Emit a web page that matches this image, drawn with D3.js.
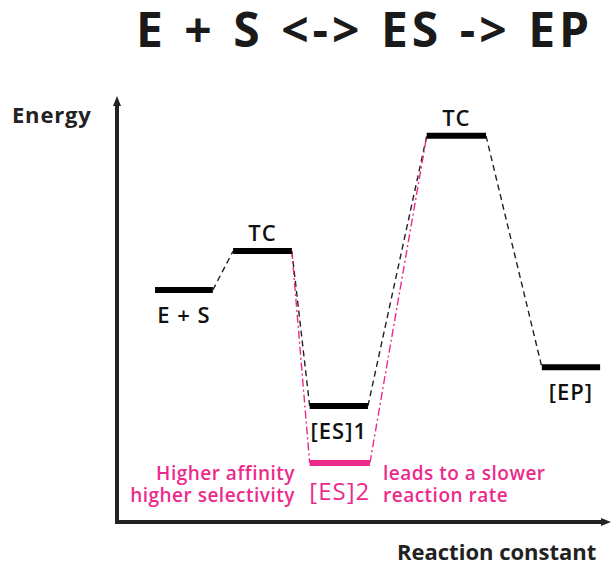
<!DOCTYPE html>
<html>
<head>
<meta charset="utf-8">
<script src="https://cdn.jsdelivr.net/npm/d3@7"></script>
<style>
  html, body { margin: 0; padding: 0; background: #fff; }
  svg { display: block; font-family: "Open Sans", "Noto Sans", sans-serif; }
</style>
</head>
<body>
<div id="chart"></div>
<script>
'use strict';

// energy levels: reaction coordinate start/end, energy (arbitrary units)
const levelNames   = ['E + S', 'TC', '[ES]1', '[ES]2', 'TC', '[EP]'];
const levelStart   = [7.7, 23.5, 39.0, 39.0, 62.7, 86.0];
const levelEnd     = [19.4, 35.4, 50.8, 51.2, 74.7, 97.8];
const levelEnergy  = [55.0, 64.2, 27.5, 14.0, 91.5, 36.7];
const levelPink    = [false, false, false, true, false, false];

// transitions between levels (indices)
const blackPath = [0, 1, 2, 4, 5];
const pinkPath  = [1, 3, 4];

const titleText = 'E + S <-> ES -> EP';
const yLabel = 'Energy';
const xLabel = 'Reaction constant';
const leftNote  = ['Higher affinity', 'higher selectivity'];
const rightNote = ['leads to a slower', 'reaction rate'];

const W = 611, H = 564;
const pink = '#ec2a8c';

const x = d3.scaleLinear().domain([0, 100]).range([117, 611]);
const y = d3.scaleLinear().domain([0, 100]).range([522, 100]);

const svg = d3.select('#chart').append('svg')
  .attr('width', W).attr('height', H);

// title
svg.append('text')
  .attr('x', 136).attr('y', 47)
  .attr('font-size', 48).attr('font-weight', 700)
  .attr('letter-spacing', 4).attr('word-spacing', 1)
  .attr('fill', '#1a1a1a')
  .text(titleText);

// axes
const axisG = svg.append('g');
axisG.append('path')
  .attr('d', `M${x(0)},${y(0)} V${y(100) + 4} M${x(0) - 2},${y(0)} H${x(100) - 6}`)
  .attr('stroke', '#222').attr('stroke-width', 4).attr('fill', 'none');
axisG.append('path')
  .attr('d', `M${x(0)},${y(100) - 4} l-4,10 h8 z`)
  .attr('fill', '#222');
axisG.append('path')
  .attr('d', `M${x(100)},${y(0)} l-10,-4 v8 z`)
  .attr('fill', '#222');

svg.append('text')
  .attr('x', 12).attr('y', 123)
  .attr('font-size', 22).attr('font-weight', 700).attr('fill', '#222')
  .attr('letter-spacing', 0.8)
  .text(yLabel);
svg.append('text')
  .attr('x', 397).attr('y', 560)
  .attr('font-size', 22).attr('font-weight', 700).attr('fill', '#222')
  .text(xLabel);

// connectors
function connectors(path){
  const segs = [];
  for(let i = 0; i < path.length - 1; i++){
    const a = path[i], b = path[i + 1];
    segs.push([[levelEnd[a], levelEnergy[a]], [levelStart[b], levelEnergy[b]]]);
  }
  return segs;
}
const line = d3.line().x(d => x(d[0])).y(d => y(d[1]));

svg.append('g').selectAll('path')
  .data(connectors(blackPath)).join('path')
  .attr('d', line)
  .attr('stroke', '#222').attr('stroke-width', 1.4)
  .attr('stroke-dasharray', '6,4').attr('fill', 'none');

svg.append('g').selectAll('path')
  .data(connectors(pinkPath)).join('path')
  .attr('d', line)
  .attr('stroke', pink).attr('stroke-width', 1.4)
  .attr('stroke-dasharray', '8,3,2,3').attr('fill', 'none');

// levels
svg.append('g').selectAll('line')
  .data(levelNames.map((n, i) => i)).join('line')
  .attr('x1', i => x(levelStart[i])).attr('x2', i => x(levelEnd[i]))
  .attr('y1', i => y(levelEnergy[i])).attr('y2', i => y(levelEnergy[i]))
  .attr('stroke', i => levelPink[i] ? pink : '#000')
  .attr('stroke-width', 6);

// level labels: TC above, others below
svg.append('g').selectAll('text')
  .data(levelNames.map((n, i) => i)).join('text')
  .attr('x', i => (x(levelStart[i]) + x(levelEnd[i])) / 2)
  .attr('y', i => levelNames[i] === 'TC' ? y(levelEnergy[i]) - 10
                  : y(levelEnergy[i]) + (levelPink[i] ? 37 : 33))
  .attr('text-anchor', 'middle')
  .attr('font-size', i => levelPink[i] ? 24 : 22)
  .attr('font-weight', i => levelPink[i] ? 400 : 600)
  .attr('letter-spacing', 1)
  .attr('fill', i => levelPink[i] ? pink : '#111')
  .text(i => levelNames[i]);

// notes (two lines each, as tspans)
function note(lines, xPos, anchor){
  const t = svg.append('text')
    .attr('x', xPos).attr('y', 480)
    .attr('text-anchor', anchor)
    .attr('font-size', 19).attr('font-weight', 600).attr('fill', pink)
    .attr('letter-spacing', 0.5);
  t.selectAll('tspan').data(lines).join('tspan')
    .attr('x', xPos).attr('dy', (d, i) => i ? 22 : 0)
    .text(d => d);
}
note(leftNote, 295, 'end');
note(rightNote, 383, 'start');
</script>
</body>
</html>
